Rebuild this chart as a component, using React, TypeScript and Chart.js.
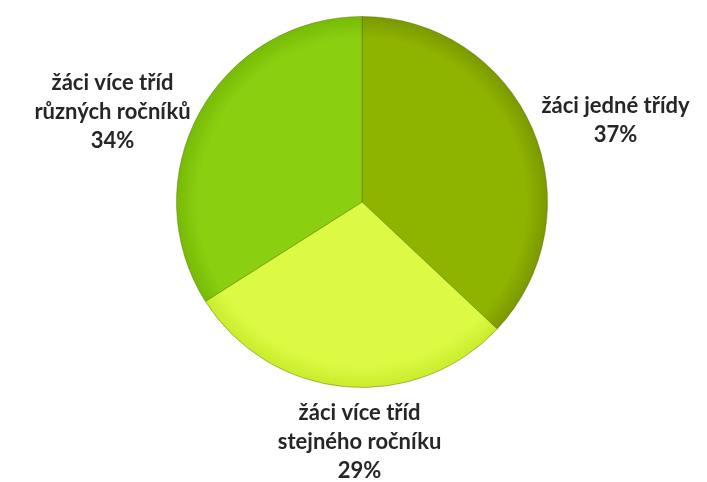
import React, { useEffect, useRef } from "react";
import { Chart, registerables } from "chart.js";

Chart.register(...registerables);

const categories: string[][] = [
  ["žáci jedné třídy"],
  ["žáci více tříd", "stejného ročníku"],
  ["žáci více tříd", "různých ročníků"],
];
const values: number[] = [37, 29, 34];
const percentLabels: string[] = ["37%", "29%", "34%"];
const innerColors: string[] = ["#8fb400", "#dcfa44", "#8ad010"];
const edgeColors: string[] = ["#7a9800", "#c8ec2c", "#76ba06"];

const FONT = "bold 22px Lato, 'Open Sans', sans-serif";
const LINE_H = 29;

const labelPlugin = {
  id: "outsideLabels",
  afterDatasetsDraw(chart: any) {
    const ctx = chart.ctx;
    const meta = chart.getDatasetMeta(0);
    ctx.save();
    ctx.font = FONT;
    ctx.fillStyle = "#262626";
    meta.data.forEach((arc: any, i: number) => {
      const { x, y, startAngle, endAngle, outerRadius } = arc.getProps(
        ["x", "y", "startAngle", "endAngle", "outerRadius"],
        true
      );
      const mid = (startAngle + endAngle) / 2;
      const c = Math.cos(mid);
      const s = Math.sin(mid);
      const r = outerRadius + 10;
      const ax = x + r * c;
      const ay = y + r * s;
      const lines = [...categories[i], percentLabels[i]];
      const blockH = lines.length * LINE_H;
      let top: number;
      let lx: number;
      if (Math.abs(c) < 0.3) {
        lx = ax + 16;
        top = s > 0 ? ay + 2 : ay - blockH;
      } else {
        const widths = lines.map((l) => ctx.measureText(l).width);
        const maxW = Math.max(...widths);
        lx = c > 0 ? ax + maxW / 2 : ax - maxW / 2;
        top = ay - blockH / 2 + (c > 0 ? -4 : 4);
      }
      ctx.textAlign = "center";
      ctx.textBaseline = "middle";
      lines.forEach((l, j) => {
        ctx.fillText(l, lx, top + LINE_H * j + LINE_H / 2);
      });
    });
    ctx.restore();
  },
};

export default function App() {
  const ref = useRef<HTMLCanvasElement | null>(null);
  useEffect(() => {
    document.body.style.margin = "0";
    const canvas = ref.current;
    if (!canvas) return;
    const chart = new Chart(canvas, {
      type: "pie",
      data: {
        labels: categories,
        datasets: [
          {
            data: values,
            backgroundColor: (context: any) => {
              const i = context.dataIndex;
              const ch = context.chart;
              const area = ch.chartArea;
              if (!area) return innerColors[i];
              const cx = (area.left + area.right) / 2;
              const cy = (area.top + area.bottom) / 2;
              const rr = Math.min(area.right - area.left, area.bottom - area.top) / 2;
              const g = ch.ctx.createRadialGradient(cx, cy, 0, cx, cy, rr);
              g.addColorStop(0, innerColors[i]);
              g.addColorStop(0.88, innerColors[i]);
              g.addColorStop(1, edgeColors[i]);
              return g;
            },
            borderColor: "rgba(90,110,0,0.45)",
            borderWidth: 1,
          },
        ],
      },
      options: {
        animation: false,
        responsive: false,
        maintainAspectRatio: false,
        layout: { padding: { left: 176, right: 159, top: 16, bottom: 94 } },
        plugins: {
          legend: { display: false },
          tooltip: { enabled: false },
        },
      },
      plugins: [labelPlugin],
    });
    return () => chart.destroy();
  }, []);
  return (
    <div style={{ width: 707, height: 482, background: "#fff" }}>
      <canvas ref={ref} width={707} height={482} />
    </div>
  );
}
